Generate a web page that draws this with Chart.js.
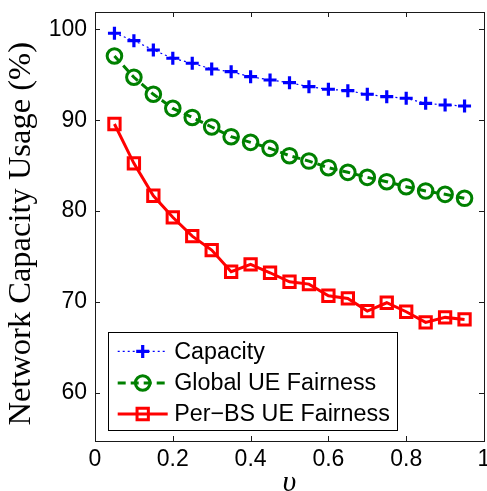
<!DOCTYPE html>
<html>
<head>
<meta charset="utf-8">
<script src="https://cdn.jsdelivr.net/npm/chart.js@4/dist/chart.umd.min.js"></script>
<style>
  html, body { margin: 0; padding: 0; background: #ffffff; }
  #wrap { width: 487px; height: 491px; }
</style>
</head>
<body>
<div id="wrap"><canvas id="c" width="487" height="491"></canvas></div>
<script>
// ---- data ----
const xValues = [0.05, 0.10, 0.15, 0.20, 0.25, 0.30, 0.35, 0.40, 0.45, 0.50, 0.55, 0.60, 0.65, 0.70, 0.75, 0.80, 0.85, 0.90, 0.95];
const capacity = [99.56, 98.75, 97.72, 96.81, 96.26, 95.63, 95.33, 94.78, 94.42, 94.12, 93.68, 93.40, 93.24, 92.85, 92.58, 92.41, 91.85, 91.67, 91.56];
const globalUE = [97.06, 94.72, 92.85, 91.30, 90.30, 89.25, 88.18, 87.56, 86.90, 86.09, 85.50, 84.77, 84.26, 83.71, 83.23, 82.68, 82.21, 81.84, 81.40];
const perBSUE  = [89.58, 85.25, 81.68, 79.31, 77.24, 75.71, 73.32, 74.13, 73.21, 72.22, 71.96, 70.68, 70.39, 68.99, 69.91, 68.92, 67.75, 68.30, 68.08];
const seriesLabels = ['Capacity', 'Global UE Fairness', 'Per\u2212BS UE Fairness'];
const xTicks = [0, 0.2, 0.4, 0.6, 0.8, 1];
const yTicks = [60, 70, 80, 90, 100];
const xTitle = '\u03C5';
const yTitle = 'Network Capacity Usage (%)';

const toPts = (ys) => xValues.map((x, i) => ({ x: x, y: ys[i] }));

const zeroPad = (s) => { s.paddingTop = 0; s.paddingBottom = 0; s.paddingLeft = 0; s.paddingRight = 0; };

const boxPlugin = {
  id: 'boxPlugin',
  afterDatasetsDraw(chart) {
    const { ctx, chartArea: ca, scales } = chart;
    ctx.save();
    ctx.strokeStyle = '#1a1a1a';
    ctx.lineWidth = 1;
    const tl = 5;
    ctx.beginPath();
    xTicks.forEach(v => {
      const px = Math.round(scales.x.getPixelForValue(v)) + 0.5;
      ctx.moveTo(px, ca.bottom); ctx.lineTo(px, ca.bottom - tl);
      ctx.moveTo(px, ca.top); ctx.lineTo(px, ca.top + tl);
    });
    yTicks.forEach(v => {
      const py = Math.round(scales.y.getPixelForValue(v)) + 0.5;
      ctx.moveTo(ca.left, py); ctx.lineTo(ca.left + tl, py);
      ctx.moveTo(ca.right, py); ctx.lineTo(ca.right - tl, py);
    });
    ctx.stroke();
    ctx.strokeRect(Math.round(ca.left) + 0.5, Math.round(ca.top) + 0.5,
                   Math.round(ca.right - ca.left), Math.round(ca.bottom - ca.top));

    // legend box
    const bx = ca.left + 12.7, bw = 289, bh = 98;
    const by = ca.bottom - 11 - bh;
    ctx.fillStyle = '#ffffff';
    ctx.fillRect(bx, by, bw, bh);
    ctx.strokeStyle = '#000000';
    ctx.strokeRect(Math.round(bx) + 0.5, Math.round(by) + 0.5, bw, bh);
    const rows = [19.4, 51, 82];
    chart.data.datasets.forEach((ds, i) => {
      const ry = by + rows[i];
      ctx.save();
      ctx.strokeStyle = ds.borderColor;
      ctx.lineWidth = ds.borderWidth;
      ctx.setLineDash(ds.borderDash || []);
      ctx.beginPath();
      ctx.moveTo(bx + 10, ry); ctx.lineTo(bx + 60, ry);
      ctx.stroke();
      ctx.setLineDash([]);
      ctx.strokeStyle = ds.pointBorderColor;
      ctx.fillStyle = 'rgba(0,0,0,0)';
      ctx.lineWidth = ds.pointBorderWidth;
      Chart.helpers.drawPoint(ctx, {
        pointStyle: ds.pointStyle, radius: ds.pointRadius, rotation: 0, borderWidth: ds.pointBorderWidth
      }, bx + 35, ry);
      ctx.restore();
      ctx.fillStyle = '#000000';
      ctx.font = '23.3px "Liberation Sans", Arial, sans-serif';
      ctx.textBaseline = 'middle';
      ctx.textAlign = 'left';
      ctx.fillText(ds.label, bx + 66.5, ry + 1);
    });
    ctx.restore();
  }
};

new Chart(document.getElementById('c'), {
  type: 'line',
  data: {
    datasets: [
      {
        label: seriesLabels[0], data: toPts(capacity),
        borderColor: '#0000ff', borderWidth: 1.2, borderDash: [2, 3],
        pointStyle: 'cross', pointRadius: 6.5, pointBorderWidth: 3.2,
        pointBorderColor: '#0000ff', pointBackgroundColor: 'rgba(0,0,0,0)',
        fill: false, tension: 0, clip: false
      },
      {
        label: seriesLabels[1], data: toPts(globalUE),
        borderColor: '#008000', borderWidth: 3, borderDash: [8, 5],
        pointStyle: 'circle', pointRadius: 7.3, pointBorderWidth: 3,
        pointBorderColor: '#008000', pointBackgroundColor: 'rgba(0,0,0,0)',
        fill: false, tension: 0, clip: false
      },
      {
        label: seriesLabels[2], data: toPts(perBSUE),
        borderColor: '#ff0000', borderWidth: 3,
        pointStyle: 'rect', pointRadius: 8, pointBorderWidth: 3,
        pointBorderColor: '#ff0000', pointBackgroundColor: 'rgba(0,0,0,0)',
        fill: false, tension: 0, clip: false
      }
    ]
  },
  options: {
    responsive: false,
    animation: false,
    devicePixelRatio: 1,
    layout: { padding: { top: 12, right: 3, left: 0, bottom: 0 }, autoPadding: false },
    plugins: { legend: { display: false }, tooltip: { enabled: false } },
    elements: { point: { hoverRadius: 7 } },
    scales: {
      x: {
        type: 'linear', min: 0, max: 1,
        afterBuildTicks: (s) => { s.ticks = xTicks.map(v => ({ value: v })); },
        afterFit: (s) => { s.height = 50; zeroPad(s); },
        grid: { display: false, drawTicks: false },
        border: { display: false },
        ticks: {
          padding: 5, color: '#000000', maxRotation: 0, autoSkip: false,
          font: { family: '"Liberation Sans", Arial, sans-serif', size: 23 },
          callback: (v) => String(v)
        },
        title: {
          display: true, text: xTitle, color: '#000000',
          font: { family: '"Liberation Serif", "Times New Roman", serif', size: 30, style: 'italic', lineHeight: 0.4 },
          padding: { top: 0, bottom: 2 }
        }
      },
      y: {
        type: 'linear', min: 54.7, max: 101.9,
        afterBuildTicks: (s) => { s.ticks = yTicks.map(v => ({ value: v })); },
        afterFit: (s) => { s.width = 95; zeroPad(s); },
        grid: { display: false, drawTicks: false },
        border: { display: false },
        ticks: {
          padding: 8, color: '#000000', autoSkip: false,
          font: { family: '"Liberation Sans", Arial, sans-serif', size: 23 },
          callback: (v) => String(v)
        },
        title: {
          display: true, text: yTitle + '\u00a0\u2009', color: '#000000',
          font: { family: '"Liberation Serif", "Times New Roman", serif', size: 32.5 },
          padding: { top: 2, bottom: 0 }
        }
      }
    }
  },
  plugins: [boxPlugin]
});
</script>
</body>
</html>
